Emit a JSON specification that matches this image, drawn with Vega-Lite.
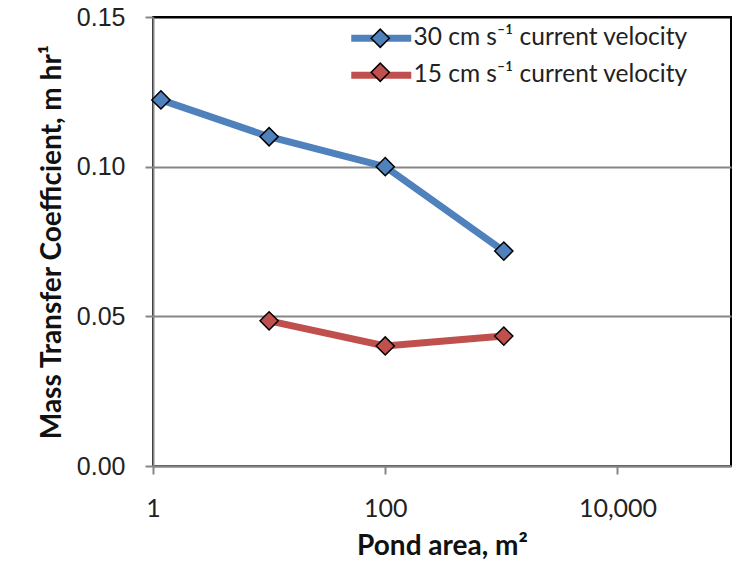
{
  "$schema": "https://vega.github.io/schema/vega-lite/v6.json",
  "width": 578,
  "height": 449,
  "autosize": {"type": "none"},
  "padding": {"left": 153, "top": 17, "right": 3, "bottom": 99},
  "background": "white",
  "config": {
    "view": {"stroke": "black", "strokeWidth": 2},
    "font": "Lato"
  },
  "data": {
    "values": [
      {"area": 1.17, "k": 0.1223, "velocity": "30 cm s⁻¹ current velocity", "series": "30 cm s⁻¹ current velocity"},
      {"area": 10, "k": 0.110, "velocity": "30 cm s⁻¹ current velocity", "series": "30 cm s⁻¹ current velocity"},
      {"area": 100, "k": 0.100, "velocity": "30 cm s⁻¹ current velocity", "series": "30 cm s⁻¹ current velocity"},
      {"area": 1050, "k": 0.0718, "velocity": "30 cm s⁻¹ current velocity", "series": "30 cm s⁻¹ current velocity"},
      {"area": 10, "k": 0.0485, "velocity": "15 cm s⁻¹ current velocity", "series": "15 cm s⁻¹ current velocity"},
      {"area": 100, "k": 0.0401, "velocity": "15 cm s⁻¹ current velocity", "series": "15 cm s⁻¹ current velocity"},
      {"area": 1050, "k": 0.0434, "velocity": "15 cm s⁻¹ current velocity", "series": "15 cm s⁻¹ current velocity"}
    ]
  },
  "encoding": {
    "x": {
      "field": "area",
      "type": "quantitative",
      "scale": {"type": "log", "domain": [1, 95000], "nice": false},
      "axis": {
        "title": "Pond area, m²",
        "values": [1, 100, 10000],
        "format": ",",
        "grid": false,
        "domainColor": "#868686",
        "domainWidth": 2,
        "tickColor": "#868686",
        "tickWidth": 2,
        "tickSize": 8,
        "labelFont": "Lato",
        "labelFontSize": 25,
        "labelColor": "#222222",
        "labelPadding": 22,
        "labelFlush": false,
        "titleFont": "Lato",
        "titleFontWeight": "bold",
        "titleFontSize": 28,
        "titleColor": "#111111",
        "titlePadding": 11
      }
    },
    "y": {
      "field": "k",
      "type": "quantitative",
      "scale": {"domain": [0, 0.15], "nice": false},
      "axis": {
        "title": "Mass Transfer Coefficient, m hr¹",
        "values": [0, 0.05, 0.1, 0.15],
        "format": ".2f",
        "grid": true,
        "gridColor": {"condition": {"test": "datum.value >= 0.149", "value": "black"}, "value": "#868686"},
        "gridWidth": 2,
        "domainColor": "#868686",
        "domainWidth": 2,
        "tickColor": "#868686",
        "tickWidth": 2,
        "tickSize": 8,
        "labelFont": "Liberation Sans",
        "labelFontSize": 25,
        "labelColor": "#222222",
        "labelPadding": 20,
        "titleFont": "Lato",
        "titleFontWeight": "bold",
        "titleFontSize": 28,
        "titleColor": "#111111",
        "titlePadding": 10
      }
    }
  },
  "layer": [
    {
      "mark": {"type": "line", "strokeWidth": 7},
      "encoding": {
        "stroke": {
          "field": "velocity",
          "type": "nominal",
          "scale": {"domain": ["30 cm s⁻¹ current velocity", "15 cm s⁻¹ current velocity"], "range": ["#4F81BD", "#C0504D"]},
          "legend": {
            "title": null,
            "orient": "none",
            "legendX": 216,
            "legendY": 9,
            "padding": 0,
            "zindex": 1,
            "symbolType": "M-6,0H6",
            "symbolSize": 100,
            "symbolStrokeWidth": 7,
            "labelFont": "Lato",
            "labelFontSize": 24.5,
            "labelColor": "#222222",
            "labelOffset": 20,
            "rowPadding": 8,
            "labelLimit": 400
          }
        }
      }
    },
    {
      "mark": {"type": "point", "shape": "diamond", "filled": true, "size": 330, "stroke": "black", "strokeWidth": 1.5, "opacity": 1},
      "encoding": {
        "fill": {
          "field": "series",
          "type": "nominal",
          "sort": "descending",
          "scale": {"range": ["#4F81BD", "#C0504D"]},
          "legend": {
            "title": null,
            "orient": "none",
            "legendX": 215,
            "legendY": 9,
            "padding": 0,
            "zindex": 2,
            "symbolType": "diamond",
            "symbolSize": 330,
            "symbolStrokeColor": "black",
            "symbolStrokeWidth": 1.5,
            "symbolOpacity": 1,
            "labelExpr": "''",
            "labelFont": "Lato",
            "labelFontSize": 24.5,
            "labelOffset": 20,
            "rowPadding": 8,
            "labelLimit": 400
          }
        }
      }
    }
  ]
}
